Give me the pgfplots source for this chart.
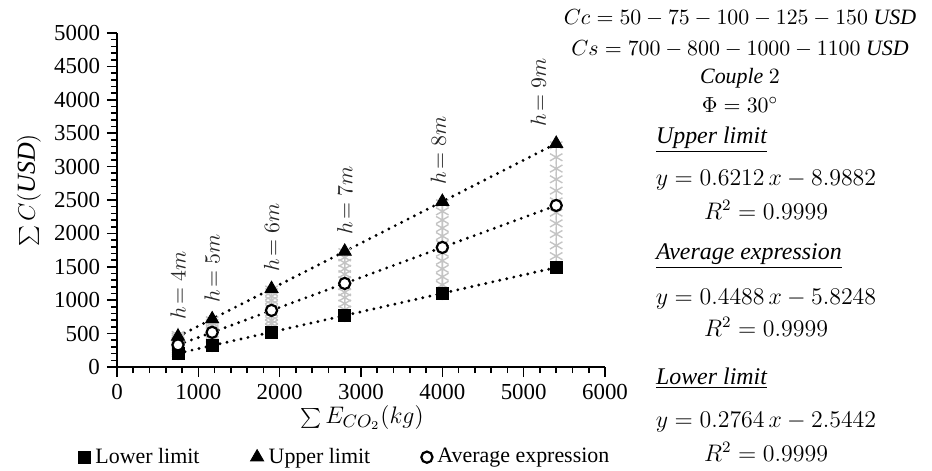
\documentclass[border=0pt]{standalone}
\usepackage{fontspec}
\setmainfont{Liberation Serif}
\usepackage{pgfplots}
\pgfplotsset{compat=1.18}
\definecolor{grayx}{HTML}{C4C4C4}

\begin{document}
\begin{tikzpicture}
\useasboundingbox (-58.5bp,-52bp) rectangle (407.5bp,183.5bp);
\begin{axis}[
  scale only axis,
  width=244bp, height=167bp,
  xmin=0, xmax=6000, ymin=0, ymax=5000,
  axis lines=left,
  axis line style={-, line width=1pt},
  xtick={0,1000,...,6000}, ytick={0,500,...,5000},
  minor x tick num=4, minor y tick num=4,
  tick align=outside,
  major tick length=5bp, minor tick length=3bp,
  every tick/.style={black, line width=0.8pt},
  scaled ticks=false,
  /pgf/number format/assume math mode=true,
  /pgf/number format/set thousands separator={},
  tick label style={font=\fontsize{11.5}{12}\selectfont},
  clip=false,
  legend style={at={(axis description cs:-0.092,-0.27)}, anchor=west, draw=none, fill=none,
    legend columns=3, font=\fontsize{11}{12}\selectfont,
    /tikz/every even column/.append style={column sep=23bp},
    nodes={inner xsep=2.5pt}},
  legend image code/.code={\draw[#1] plot coordinates {(0.1cm,0cm)};},
]
% gray scatter of all cost combinations
\addplot[only marks, mark=asterisk, mark size=3.6bp, grayx, line width=0.7pt, forget plot] coordinates {
  (750,210) (750,240) (750,270) (750,300) (750,330) (750,360) (750,390) (750,420) (750,450) (750,480)
  (1170,330) (1170,370) (1170,410) (1170,450) (1170,500) (1170,540) (1170,580) (1170,620) (1170,660) (1170,700)
  (1900,530) (1900,590) (1900,650) (1900,700) (1900,760) (1900,820) (1900,880) (1900,940) (1900,1000) (1900,1060) (1900,1120) (1900,1160)
  (2800,780) (2800,860) (2800,950) (2800,1040) (2800,1120) (2800,1210) (2800,1300) (2800,1390) (2800,1470) (2800,1560) (2800,1640) (2800,1720)
  (4000,1110) (4000,1230) (4000,1350) (4000,1470) (4000,1590) (4000,1710) (4000,1840) (4000,1960) (4000,2080) (4000,2200) (4000,2330) (4000,2450)
  (5400,1500) (5400,1660) (5400,1820) (5400,1990) (5400,2150) (5400,2310) (5400,2480) (5400,2640) (5400,2810) (5400,2970) (5400,3140) (5400,3320)
};
% lower limit
\addplot[black, line width=1.6pt, line cap=round, dash pattern=on 0pt off 3.6pt, mark=square*, mark size=3bp,
  mark options={solid, line width=0.4pt}] coordinates {
  (750,205) (1170,321) (1900,523) (2800,771) (4000,1103) (5400,1490)
};
\addlegendentry{Lower limit}
% upper limit
\addplot[black, line width=1.6pt, line cap=round, dash pattern=on 0pt off 3.6pt, mark=triangle*, mark size=3.8bp,
  mark options={solid, line width=0.4pt}] coordinates {
  (750,457) (1170,718) (1900,1171) (2800,1730) (4000,2476) (5400,3345)
};
\addlegendentry{Upper limit}
% average expression
\addplot[black, line width=1.6pt, line cap=round, dash pattern=on 0pt off 3.6pt, mark=*, mark size=2.8bp,
  mark options={solid, fill=white, line width=1.1pt}] coordinates {
  (750,331) (1170,519) (1900,847) (2800,1251) (4000,1790) (5400,2418)
};
\addlegendentry{Average expression}

\begin{scope}[every node/.style={rotate=90, anchor=west, font=\fontsize{10.5}{12}\selectfont, text=black!85}]
\node at (axis cs:750,457) [xshift=5bp] {$h\!=4m$};
\node at (axis cs:1170,718) [xshift=5bp] {$h\!=5m$};
\node at (axis cs:1900,1171) [xshift=5bp] {$h\!=6m$};
\node at (axis cs:2800,1730) [xshift=5bp] {$h\!=7m$};
\node at (axis cs:4000,2476) [xshift=5bp, yshift=2bp] {$h\!=8m$};
\node at (axis cs:5400,3345) [xshift=5bp, yshift=9bp] {$h\!=9m$};
\end{scope}
\end{axis}

% axis titles
\node[rotate=90, font=\fontsize{13}{14}\selectfont] at (-44bp,88.5bp) {$\sum C(\mathit{USD})$};
\node[font=\fontsize{13}{14}\selectfont] at (122.5bp,-25.5bp) {$\sum E_{CO_2}(kg)$};

% right-hand annotations
\begin{scope}[every node/.style={font=\fontsize{11}{12}\selectfont}]
\node at (311.5bp,174.5bp) {$Cc = 50 - 75 - 100 - 125 - 150\ \mathit{USD}$};
\node at (311.5bp,159bp) {$Cs = 700 - 800 - 1000 - 1100\ \mathit{USD}$};
\node at (311.5bp,144.5bp) {$\mathit{Couple}\ 2$};
\node at (311.5bp,131bp) {$\Phi = 30^{\circ}$};
\end{scope}
\begin{scope}[every node/.style={font=\fontsize{12}{13}\selectfont}]
\node[anchor=west] at (266bp,113.5bp) {\textit{\underline{Upper limit}}};
\node at (324.5bp,93.5bp) {$y = 0.6212\,x - 8.9882$};
\node at (324.5bp,78.5bp) {$R^2 = 0.9999$};
\node[anchor=west] at (266bp,55.5bp) {\textit{\underline{Average expression}}};
\node at (324.5bp,34bp) {$y = 0.4488\,x - 5.8248$};
\node at (324.5bp,20bp) {$R^2 = 0.9999$};
\node[anchor=west] at (266bp,-5.5bp) {\textit{\underline{Lower limit}}};
\node at (324.5bp,-27.5bp) {$y = 0.2764\,x - 2.5442$};
\node at (324.5bp,-42.5bp) {$R^2 = 0.9999$};
\end{scope}
\end{tikzpicture}
\end{document}
